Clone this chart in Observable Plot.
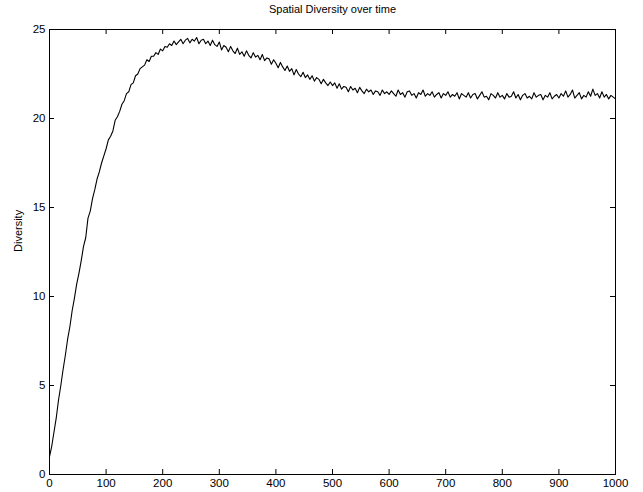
<!DOCTYPE html>
<html>
<head>
<meta charset="utf-8">
<script src="https://cdn.jsdelivr.net/npm/d3@7"></script>
<script src="https://cdn.jsdelivr.net/npm/@observablehq/plot@0.6"></script>
<style>
  html, body { margin: 0; padding: 0; background: #fff; }
  svg { display: block; }
</style>
</head>
<body>
<div id="chart"></div>
<script>
const title = "Spatial Diversity over time";
const yLabel = "Diversity";
const xTicks = [0, 100, 200, 300, 400, 500, 600, 700, 800, 900, 1000];
const yTicks = [0, 5, 10, 15, 20, 25];
const timeStep = 4;
const diversity = [
  1.0, 1.6, 2.4, 3.2, 4.2, 5.0, 5.9, 6.7, 7.6, 8.3, 9.2, 9.9, 10.7, 11.3, 12.0, 12.8, 13.3, 14.4, 14.8, 15.5, 16.0, 16.6, 17.0, 17.5, 17.9,
  18.3, 18.8, 19.0, 19.3, 19.9, 20.1, 20.4, 20.8, 21.0, 21.4, 21.5, 21.9, 22.0, 22.4, 22.5, 22.8, 22.9, 23.0, 23.3, 23.2, 23.5, 23.5, 23.7, 23.6, 23.9,
  23.8, 24.05, 24.0, 24.2, 24.1, 24.35, 24.15, 24.3, 24.45, 24.2, 24.4, 24.5, 24.25, 24.45, 24.35, 24.55, 24.2, 24.4, 24.45, 24.2, 24.35, 24.1, 24.4, 24.15, 24.05,
  24.3, 23.85, 24.1, 24.0, 23.75, 24.05, 23.8, 23.65, 23.95, 23.6, 23.75, 23.5, 23.8, 23.55, 23.4, 23.7, 23.45, 23.55, 23.3, 23.6, 23.25, 23.4, 23.35, 23.05, 23.3,
  23.1, 22.85, 23.15, 22.9, 22.7, 22.95, 22.65, 22.8, 22.45, 22.75, 22.5, 22.35, 22.6, 22.3, 22.45, 22.2, 22.4, 22.1, 22.3, 22.2, 21.95, 22.2, 22.0, 21.85, 22.05,
  21.85, 22.0, 21.7, 21.95, 21.65, 21.8, 21.75, 21.5, 21.8, 21.6, 21.7, 21.45, 21.75, 21.55, 21.4, 21.65, 21.5, 21.6, 21.35, 21.55, 21.5, 21.3, 21.6, 21.4, 21.5,
  21.35, 21.55, 21.4, 21.25, 21.6, 21.35, 21.45, 21.2, 21.5, 21.55, 21.3, 21.4, 21.15, 21.45, 21.35, 21.6, 21.25, 21.4, 21.3, 21.5, 21.2, 21.35, 21.45, 21.15, 21.4,
  21.3, 21.5, 21.2, 21.35, 21.25, 21.45, 21.1, 21.4, 21.3, 21.2, 21.45, 21.15, 21.35, 21.4, 21.1, 21.3, 21.5, 21.2, 21.25, 21.05, 21.4, 21.3, 21.15, 21.45, 21.2,
  21.3, 21.1, 21.4, 21.2, 21.25, 21.5, 21.15, 21.35, 21.05, 21.3, 21.4, 21.15, 21.25, 21.1, 21.45, 21.2, 21.3, 21.35, 21.05, 21.3, 21.2, 21.45, 21.1, 21.25, 21.35,
  21.15, 21.4, 21.25, 21.55, 21.2, 21.35, 21.6, 21.15, 21.3, 21.45, 21.1, 21.3, 21.2, 21.5, 21.25, 21.65, 21.3, 21.4, 21.15, 21.5, 21.2, 21.35, 21.1, 21.3, 21.2,
  21.1
];

const data = diversity.map((v, i) => ({t: i * timeStep, v}));

const W = 643, H = 492;
const mL = 49, mR = 28, mT = 29, mB = 18;
const innerW = W - mL - mR, innerH = H - mT - mB;
const tickLen = 5;
const font = "Liberation Sans, Arial, Helvetica, sans-serif";

const chart = Plot.plot({
  width: W,
  height: H,
  marginLeft: mL,
  marginRight: mR,
  marginTop: mT,
  marginBottom: mB,
  style: {fontFamily: font, fontSize: "11.5px", color: "#000", background: "#fff"},
  x: {domain: [0, 1000], ticks: xTicks},
  y: {domain: [0, 25], ticks: yTicks},
  marks: [
    Plot.axisX(xTicks, {anchor: "bottom", tickSize: 0, tickPadding: 4, label: null, fontSize: 11.5, tickFormat: d => String(d)}),
    Plot.axisY(yTicks, {anchor: "left", tickSize: 0, tickPadding: 4, label: null, fontSize: 11.5, tickFormat: d => String(d)}),
    Plot.tickX(xTicks, {x: d => d, insetTop: innerH - tickLen, stroke: "#000"}),
    Plot.tickX(xTicks, {x: d => d, insetBottom: innerH - tickLen, stroke: "#000"}),
    Plot.tickY(yTicks, {y: d => d, insetRight: innerW - tickLen, stroke: "#000"}),
    Plot.tickY(yTicks, {y: d => d, insetLeft: innerW - tickLen, stroke: "#000"}),
    Plot.line(data, {x: "t", y: "v", stroke: "#000", strokeWidth: 1.1}),
    Plot.frame({stroke: "#000", strokeWidth: 1}),
    Plot.text([title], {frameAnchor: "top", dy: -20, lineAnchor: "middle", fontSize: 11, fill: "#000"}),
    Plot.text([yLabel], {frameAnchor: "left", dx: -31, rotate: -90, lineAnchor: "middle", fontSize: 11, fill: "#000"})
  ]
});
document.getElementById("chart").appendChild(chart);
</script>
</body>
</html>
